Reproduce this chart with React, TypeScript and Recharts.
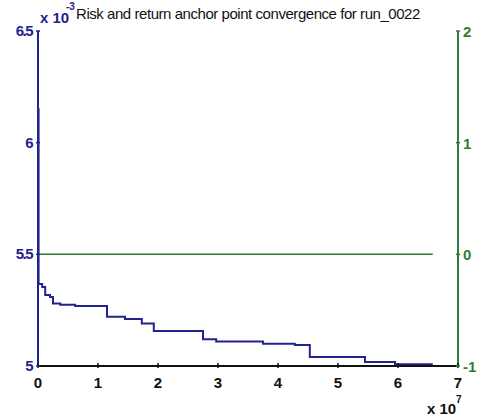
import { ComposedChart, Line, XAxis, YAxis } from "recharts"

// x in units of 1e7, risk in units of 1e-3
const riskX = [0, 0.01, 0.07, 0.12, 0.2, 0.25, 0.37, 0.62, 1.15, 1.45, 1.73, 1.93, 2.75, 2.97, 3.75, 4.28, 4.53, 5.45, 5.95, 6.58]
const riskY = [6.15, 5.367, 5.354, 5.318, 5.309, 5.28, 5.274, 5.269, 5.22, 5.21, 5.19, 5.157, 5.12, 5.11, 5.1, 5.094, 5.04, 5.018, 5.008, 5.008]
const returnX = [0, 6.58]
const returnY = [0, 0]

const xTicks = [0, 1, 2, 3, 4, 5, 6, 7]
const leftTicks = [5, 5.5, 6, 6.5]
const rightTicks = [-1, 0, 1, 2]

const riskData = riskX.map((x, i) => ({ x, risk: riskY[i] }))
const returnData = returnX.map((x, i) => ({ x, ret: returnY[i] }))

const BLUE = "#23238f"
const GREEN = "#2d7d3a"
const FONT = "'Liberation Sans', Arial, sans-serif"

function BottomTick({ x, y, payload }: any) {
  return (
    <g>
      <line x1={x} x2={x} y1={y} y2={y - 5} stroke="#111" strokeWidth={1.5} />
      <text x={x} y={y + 20} textAnchor="middle" fontFamily={FONT} fontWeight="bold" fontSize={15} fill="#111">
        {payload.value}
      </text>
    </g>
  )
}

function LeftTick({ x, y, payload }: any) {
  return (
    <g>
      <line x1={x} x2={x + 4} y1={y} y2={y} stroke={BLUE} strokeWidth={1.5} />
      <text x={x - 4} y={y + 5} textAnchor="end" fontFamily={FONT} fontWeight="bold" fontSize={15} letterSpacing={-1.5} fill={BLUE}>
        {payload.value}
      </text>
    </g>
  )
}

function RightTick({ x, y, payload }: any) {
  return (
    <g>
      <line x1={x} x2={x - 4} y1={y} y2={y} stroke={GREEN} strokeWidth={1.5} />
      <text x={x + 3} y={y + 6} textAnchor="start" fontFamily={FONT} fontWeight="bold" fontSize={15} fill={GREEN}>
        {payload.value}
      </text>
    </g>
  )
}

export default function App() {
  return (
    <div style={{ position: "absolute", left: 0, top: 0, width: 477, height: 420, background: "#fff" }}>
      <ComposedChart width={477} height={420} margin={{ top: 31, right: 0, bottom: 0, left: 0 }}>
        <XAxis
          xAxisId="b"
          type="number"
          dataKey="x"
          domain={[0, 7]}
          ticks={xTicks}
          height={54}
          tickSize={0}
          tickLine={false}
          tick={<BottomTick />}
          axisLine={{ stroke: "#111", strokeWidth: 2 }}
        />
        <XAxis
          xAxisId="t"
          orientation="top"
          type="number"
          dataKey="x"
          domain={[0, 7]}
          ticks={xTicks}
          height={0}
          tickSize={-4}
          tick={false}
          tickLine={{ stroke: "#111", strokeWidth: 1.2 }}
          axisLine={{ stroke: "#111", strokeWidth: 1.5 }}
        />
        <YAxis
          yAxisId="l"
          type="number"
          domain={[5, 6.5]}
          ticks={leftTicks}
          width={38}
          tickSize={0}
          tickLine={false}
          tick={<LeftTick />}
          axisLine={{ stroke: BLUE, strokeWidth: 2 }}
        />
        <YAxis
          yAxisId="r"
          orientation="right"
          type="number"
          domain={[-1, 2]}
          ticks={rightTicks}
          width={19}
          tickSize={0}
          tickLine={false}
          tick={<RightTick />}
          axisLine={{ stroke: GREEN, strokeWidth: 2 }}
        />
        <Line
          data={riskData}
          xAxisId="b"
          yAxisId="l"
          dataKey="risk"
          type="stepAfter"
          stroke={BLUE}
          strokeWidth={2}
          dot={false}
          isAnimationActive={false}
        />
        <Line
          data={returnData}
          xAxisId="b"
          yAxisId="r"
          dataKey="ret"
          type="linear"
          stroke={GREEN}
          strokeWidth={1.5}
          dot={false}
          isAnimationActive={false}
        />
      </ComposedChart>
      <svg width={477} height={420} style={{ position: "absolute", left: 0, top: 0, pointerEvents: "none" }}>
        <text x={40} y={23} fontFamily={FONT} fontWeight="bold" fontSize={15} fill={BLUE}>x 10</text>
        <text x={66} y={10} fontFamily={FONT} fontWeight="bold" fontSize={10} fill={BLUE}>-3</text>
        <text x={76} y={19} fontFamily={FONT} fontSize={15} letterSpacing={-0.45} fill="#111">
          Risk and return anchor point convergence for run_0022
        </text>
        <text x={427} y={414} fontFamily={FONT} fontWeight="bold" fontSize={15} fill="#111">x 10</text>
        <text x={456} y={403} fontFamily={FONT} fontWeight="bold" fontSize={10} fill="#111">7</text>
      </svg>
    </div>
  )
}
